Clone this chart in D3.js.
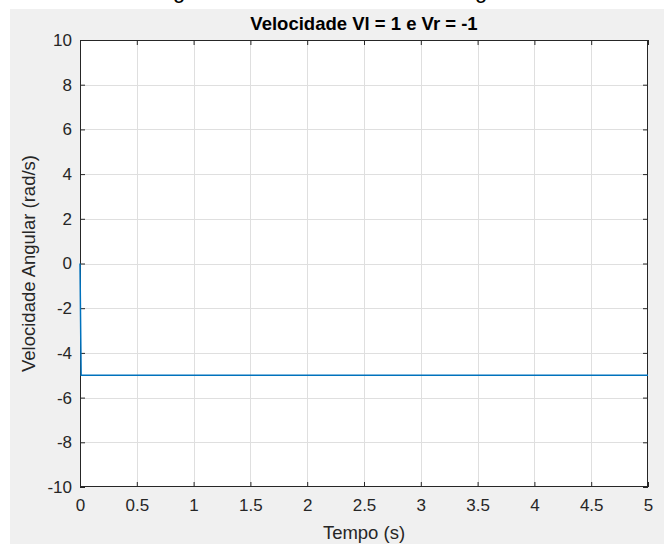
<!DOCTYPE html>
<html>
<head>
<meta charset="utf-8">
<script src="https://cdn.jsdelivr.net/npm/d3@7"></script>
<style>
  html, body { margin: 0; padding: 0; background: #ffffff; }
  svg { display: block; }
  text { font-family: "Liberation Sans", Arial, Helvetica, sans-serif; }
</style>
</head>
<body>
<svg id="chart" width="664" height="544"></svg>
<script>
// Angular velocity response for Vl = 1, Vr = -1
const tempo = [0, 0.01, 5];
const velocidade = [0, -5, -5];

const xTicks = [0, 0.5, 1, 1.5, 2, 2.5, 3, 3.5, 4, 4.5, 5];
const yTicks = [-10, -8, -6, -4, -2, 0, 2, 4, 6, 8, 10];

const titulo = "Velocidade Vl = 1 e Vr = -1";
const rotuloX = "Tempo (s)";
const rotuloY = "Velocidade Angular (rad/s)";

const svg = d3.select("#chart");
const W = 664, H = 544;
const m = { left: 80, right: 16, top: 40, bottom: 57 };
const pw = W - m.left - m.right;
const ph = H - m.top - m.bottom;

// figure background
svg.append("rect").attr("x", 10).attr("y", 9).attr("width", W - 10).attr("height", H - 9)
  .attr("fill", "#f0f0f0");

// caption line above the figure, mostly out of view
svg.append("text").attr("x", 173).attr("y", -2).attr("font-size", 22)
  .attr("font-family", "Liberation Serif, serif").attr("fill", "#000").text("g");
svg.append("text").attr("x", 475).attr("y", -2).attr("font-size", 22)
  .attr("font-family", "Liberation Serif, serif").attr("fill", "#000").text("g");

const x = d3.scaleLinear().domain([0, 5]).range([m.left, m.left + pw]);
const y = d3.scaleLinear().domain([-10, 10]).range([m.top + ph, m.top]);

const g = svg.append("g");
g.append("rect").attr("x", m.left).attr("y", m.top).attr("width", pw).attr("height", ph)
  .attr("fill", "#ffffff");

// grid
const grid = g.append("g").attr("stroke", "#dfdfdf").attr("stroke-width", 1);
grid.selectAll(".gx").data(xTicks.slice(1, -1)).join("line")
  .attr("x1", d => Math.round(x(d)) + 0.5).attr("x2", d => Math.round(x(d)) + 0.5)
  .attr("y1", m.top).attr("y2", m.top + ph);
grid.selectAll(".gy").data(yTicks.slice(1, -1)).join("line")
  .attr("y1", d => Math.round(y(d)) + 0.5).attr("y2", d => Math.round(y(d)) + 0.5)
  .attr("x1", m.left).attr("x2", m.left + pw);

// axes with inward ticks on all sides
const axisColor = "#262626";
const tickLen = 5;
const fmt = d => String(d);
function styleAxis(sel) {
  sel.select(".domain").remove();
  sel.selectAll(".tick line").attr("stroke", axisColor);
  sel.selectAll(".tick text").attr("fill", axisColor).attr("font-size", 17)
    .attr("font-family", "Liberation Sans, Arial, sans-serif");
}
g.append("g").attr("transform", `translate(0,${m.top + ph})`)
  .call(d3.axisBottom(x).tickValues(xTicks).tickSize(-tickLen).tickPadding(12).tickFormat(fmt))
  .call(styleAxis);
g.append("g").attr("transform", `translate(0,${m.top})`)
  .call(d3.axisTop(x).tickValues(xTicks).tickSize(-tickLen).tickFormat(""))
  .call(styleAxis);
g.append("g").attr("transform", `translate(${m.left},0)`)
  .call(d3.axisLeft(y).tickValues(yTicks).tickSize(-tickLen).tickPadding(8).tickFormat(fmt))
  .call(styleAxis);
g.append("g").attr("transform", `translate(${m.left + pw},0)`)
  .call(d3.axisRight(y).tickValues(yTicks).tickSize(-tickLen).tickFormat(""))
  .call(styleAxis);

// box
g.append("rect").attr("x", m.left + 0.5).attr("y", m.top + 0.5)
  .attr("width", pw - 1).attr("height", ph - 1)
  .attr("fill", "none").attr("stroke", axisColor).attr("stroke-width", 1);

// data line, drawn above the box so the step at t = 0 stays visible
const line = d3.line().x((d, i) => x(tempo[i])).y(d => y(d));
g.append("path").datum(velocidade).attr("d", line)
  .attr("fill", "none").attr("stroke", "#0072bd").attr("stroke-width", 1.5);

// labels
svg.append("text").attr("x", m.left + pw / 2).attr("y", 30).attr("text-anchor", "middle")
  .attr("font-size", 18.5).attr("font-weight", "bold").attr("fill", "#000").text(titulo);
svg.append("text").attr("x", m.left + pw / 2).attr("y", 539).attr("text-anchor", "middle")
  .attr("font-size", 18.5).attr("fill", axisColor).text(rotuloX);
svg.append("text").attr("transform", `translate(35,${m.top + ph / 2}) rotate(-90)`)
  .attr("text-anchor", "middle").attr("font-size", 18.5).attr("fill", axisColor).text(rotuloY);
</script>
</body>
</html>
